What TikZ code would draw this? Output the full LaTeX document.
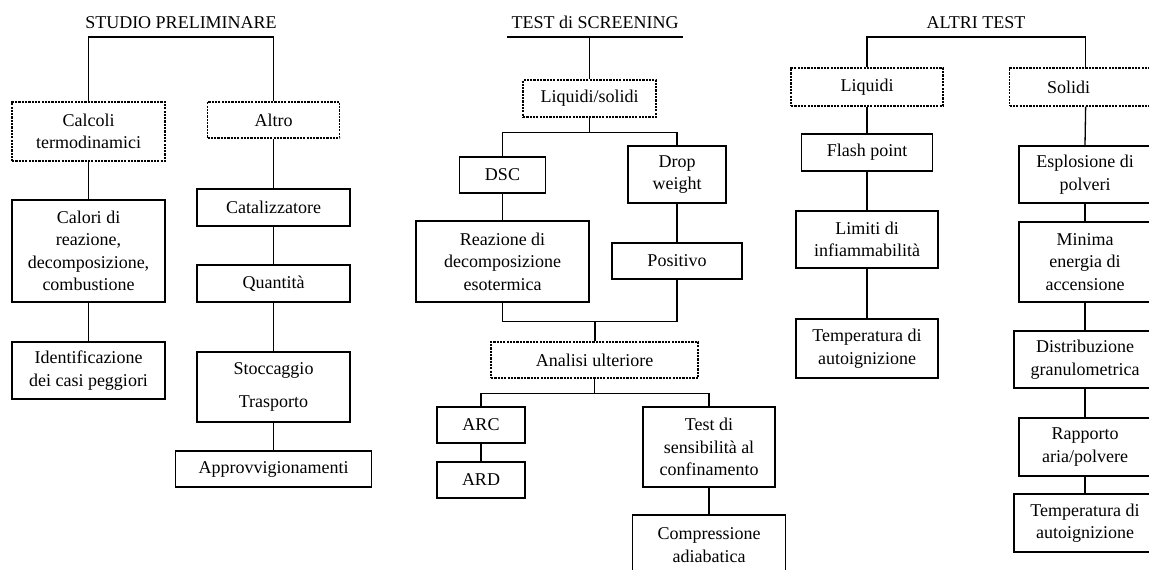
\documentclass[tikz,border=0pt]{standalone}
\usepackage{fontspec}
\setmainfont{Liberation Serif}

\begin{document}
\begin{tikzpicture}[
    x=1pt, y=-1pt,
    font=\fontsize{18}{22.5}\selectfont,
    box/.style={rectangle, draw, line width=1.3pt, align=center, inner sep=2pt},
    dotbox/.style={box, dash pattern=on 2.2pt off 1.1pt},
    heading/.style={anchor=south, text depth=0pt, inner xsep=2pt, inner ysep=8pt},
    link/.style={line width=1.3pt}
]
\useasboundingbox (0,0) rectangle (1149,570);
\clip (0,0) rectangle (1149,570);

% Studio preliminare
\node[heading] (studio) at (181,37) {STUDIO PRELIMINARE};
\node[dotbox, minimum width=153pt, minimum height=59pt] (calcoli) at (88.5,131.5) {Calcoli\\termodinamici};
\node[box, minimum width=153pt, minimum height=102pt] (calori) at (88.5,251) {Calori di\\reazione,\\decomposizione,\\combustione};
\node[box, minimum width=153pt, minimum height=57pt] (ident) at (88.5,370.5) {Identificazione\\dei casi peggiori};
\node[dotbox, minimum width=132pt, minimum height=36pt] (altro) at (273.5,120) {Altro};
\node[box, minimum width=153pt, minimum height=37pt] (catal) at (273.5,207.5) {Catalizzatore};
\node[box, minimum width=153pt, minimum height=37pt] (quant) at (273.5,283.5) {Quantità};
\node[box, minimum width=153pt, minimum height=70pt] (stocc) at (273.5,387) {Stoccaggio\\[10pt]Trasporto};
\node[box, minimum width=196pt, minimum height=36pt] (approv) at (273.5,469) {Approvvigionamenti};

% Test di screening
\node[heading, inner xsep=4pt] (screen) at (595,37) {TEST di SCREENING};
\node[dotbox, minimum width=133pt, minimum height=37pt] (liqsol) at (589.5,98.5) {Liquidi/solidi};
\node[box, minimum width=86pt, minimum height=36pt] (dsc) at (502.5,175) {DSC};
\node[box, minimum width=98pt, minimum height=57pt] (drop) at (677,174.5) {Drop\\weight};
\node[box, minimum width=173pt, minimum height=81pt] (reaz) at (502.5,261.5) {Reazione di\\decomposizione\\esotermica};
\node[box, minimum width=130pt, minimum height=36pt] (posit) at (677,261) {Positivo};
\node[dotbox, minimum width=207pt, minimum height=36pt] (analisi) at (594.5,360) {Analisi ulteriore};
\node[box, minimum width=88pt, minimum height=36pt] (arc) at (481,425) {ARC};
\node[box, minimum width=88pt, minimum height=36pt] (ard) at (481,480) {ARD};
\node[box, minimum width=132pt, minimum height=80pt] (sens) at (709,447) {Test di\\sensibilità al\\confinamento};
\node[box, minimum width=153pt, minimum height=60pt] (compr) at (709,545) {Compressione\\adiabatica};

% Altri test
\node[heading] (altri) at (976,37) {ALTRI TEST};
\node[dotbox, minimum width=152pt, minimum height=38pt] (liq) at (867,87) {Liquidi};
\node[box, minimum width=131pt, minimum height=37pt] (flash) at (867,152.5) {Flash point};
\node[box, minimum width=142pt, minimum height=57pt] (limiti) at (867,239.5) {Limiti di\\infiammabilità};
\node[box, minimum width=142pt, minimum height=59pt] (templ) at (867,348.5) {Temperatura di\\autoignizione};
\node[dotbox, anchor=west, text width=77pt, align=left, inner xsep=37.5pt, minimum height=38pt] (sol) at (1009,87) {Solidi};
\node[box, minimum width=132pt, minimum height=57pt] (espl) at (1085,174.5) {Esplosione di\\polveri};
\node[box, minimum width=132pt, minimum height=80pt] (minima) at (1085,262) {Minima\\energia di\\accensione};
\node[box, minimum width=142pt, minimum height=57pt] (distr) at (1085,359.5) {Distribuzione\\granulometrica};
\node[box, minimum width=132pt, minimum height=58pt] (rapp) at (1085,447) {Rapporto\\aria/polvere};
\node[box, minimum width=142pt, minimum height=58pt] (temps) at (1085,523) {Temperatura di\\autoignizione};

% Connectors
\draw[link] (calcoli.north) |- (studio.south) -| (altro.north);
\draw[link] (calcoli.south) -- (calori.north);
\draw[link] (calori.south) -- (ident.north);
\draw[link] (altro.south) -- (catal.north);
\draw[link] (catal.south) -- (quant.north);
\draw[link] (quant.south) -- (stocc.north);
\draw[link] (stocc.south) -- (approv.north);

\draw[link] (screen.south west) -- (screen.south east);
\draw[link] (liqsol.north) -- (liqsol.north |- screen.south);
\draw[link] (liqsol.south) -- ++(0,15) coordinate (j1);
\draw[link] (dsc.north) |- (j1) -| (drop.north);
\draw[link] (dsc.south) -- (reaz.north);
\draw[link] (drop.south) -- (posit.north);
\draw[link, line width=2pt] (analisi.north) -- ++(0,-20) coordinate (j2);
\draw[link] (reaz.south) |- (j2) -| (posit.south);
\draw[link] (analisi.south) -- ++(0,15) coordinate (j3);
\draw[link] (arc.north) |- (j3) -| (sens.north);
\draw[link] (arc.south) -- (ard.north);
\draw[link] (sens.south) -- (compr.north);

\draw[link] (liq.north) |- (altri.south) -| (sol.north);
\draw[link] (liq.south) -- (flash.north);
\draw[link] (flash.south) -- (limiti.north);
\draw[link] (limiti.south) -- (templ.north);
\draw[link] (sol.south) -- (espl.north);
\draw[link] (espl.south) -- (minima.north);
\draw[link] (minima.south) -- (distr.north);
\draw[link] (distr.south) -- (rapp.north);
\draw[link] (rapp.south) -- (temps.north);

\end{tikzpicture}
\end{document}
